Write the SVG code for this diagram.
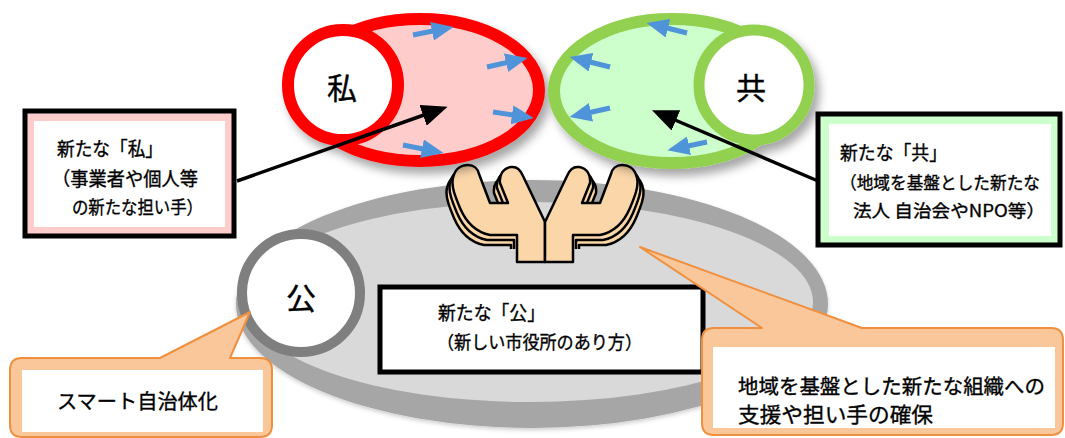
<svg xmlns="http://www.w3.org/2000/svg" width="1065" height="438" viewBox="0 0 1065 438">
  <defs>
    <style>
      .jp { font-family: "Noto Sans CJK JP", "Liberation Sans", sans-serif; fill: #000; stroke: #000; stroke-width: 0.35; }
      .big { font-size: 30px; text-anchor: middle; }
      .frame { stroke: #000; stroke-width: 5; }
      .callout { fill: #f9c79a; stroke: #f0903f; stroke-width: 2; stroke-linejoin: round; }
      .blue { stroke: #4f94d8; stroke-width: 5; fill: none; marker-end: url(#blueHead); }
      .black { stroke: #000; stroke-width: 3.5; fill: none; marker-end: url(#blackHead); }
      .hand { fill: #fbd6a9; stroke: #000; stroke-width: 2.5; stroke-linejoin: round; }
    </style>
    <marker id="blueHead" markerUnits="userSpaceOnUse" markerWidth="22" markerHeight="19" refX="1" refY="9.5" orient="auto" viewBox="0 0 22 19">
      <path d="M0,0 L22,9.5 L0,19 Z" fill="#4f94d8"/>
    </marker>
    <marker id="blackHead" markerUnits="userSpaceOnUse" markerWidth="26" markerHeight="22" refX="1" refY="11" orient="auto" viewBox="0 0 26 22">
      <path d="M0,0 L26,11 L0,22 Z" fill="#000"/>
    </marker>
    <filter id="shadow" x="-20%" y="-20%" width="150%" height="160%">
      <feDropShadow dx="5" dy="7" stdDeviation="5" flood-color="#000" flood-opacity="0.35"/>
    </filter>
    <filter id="soft" x="-10%" y="-10%" width="120%" height="130%">
      <feDropShadow dx="0" dy="2" stdDeviation="2" flood-color="#000" flood-opacity="0.2"/>
    </filter>
    <clipPath id="handStack">
      <rect x="400" y="150" width="300" height="99"/>
    </clipPath>
    <!-- one cupped hand (left side); the right one is its mirror image -->
    <path id="handShape" d="M545,262 L517,262 L517,242 L517,235 L490,235
      C475,232 466,222 460,208 C455,196 451,186 453,178
      C455,168 462,165 468,165 C474,165 478,169 479,174
      L490,203 L508,203 L500,183
      C499,175 503,168 511,167 C518,166 521,171 523,176
      L545,222 Z"/>
  </defs>

  <!-- base plate -->
  <g id="plate" filter="url(#soft)">
    <ellipse cx="532" cy="304" rx="296" ry="124" fill="#a6a6a6"/>
    <ellipse cx="530" cy="302" rx="283" ry="100" fill="#d9d9d9"/>
  </g>

  <!-- hands -->
  <g id="hands">
    <g id="hand-left">
      <g clip-path="url(#handStack)">
        <use href="#handShape" class="hand" transform="translate(-6,10)"/>
        <use href="#handShape" class="hand" transform="translate(-3,5)"/>
      </g>
      <use href="#handShape" class="hand"/>
    </g>
    <g id="hand-right" transform="translate(1090,0) scale(-1,1)">
      <g clip-path="url(#handStack)">
        <use href="#handShape" class="hand" transform="translate(-6,10)"/>
        <use href="#handShape" class="hand" transform="translate(-3,5)"/>
      </g>
      <use href="#handShape" class="hand"/>
    </g>
  </g>

  <!-- 私 -->
  <g id="node-watashi" filter="url(#shadow)">
    <ellipse cx="420" cy="90" rx="119" ry="71" fill="#ffcccc" stroke="#ff0000" stroke-width="12"/>
    <circle cx="343" cy="85" r="55" fill="#fff" stroke="#ff0000" stroke-width="12"/>
  </g>
  <text class="jp big" x="342" y="99">私</text>

  <!-- 共 -->
  <g id="node-tomo" filter="url(#shadow)">
    <ellipse cx="672" cy="91" rx="118" ry="72" fill="#ccffcc" stroke="#92d050" stroke-width="12"/>
    <circle cx="754" cy="85" r="55" fill="#fff" stroke="#92d050" stroke-width="11"/>
  </g>
  <text class="jp big" x="751" y="99">共</text>

  <!-- 公 -->
  <g id="node-oyake">
    <circle cx="301" cy="293" r="59" fill="#fff" stroke="#7f7f7f" stroke-width="10"/>
    <text class="jp big" x="301" y="309">公</text>
  </g>

  <g id="box-oyake">
    <rect class="frame" x="380" y="287" width="323" height="85" fill="#fff"/>
    <text class="jp" x="438" y="320" font-size="19" textLength="107" lengthAdjust="spacingAndGlyphs">新たな「公」</text>
    <text class="jp" x="437" y="349" font-size="18" textLength="205" lengthAdjust="spacingAndGlyphs">（新しい市役所のあり方）</text>
  </g>

  <!-- connectors -->
  <g id="connectors">
    <path class="blue" d="M413,35 L433,31"/>
    <path class="blue" d="M487,67 L507,62.5"/>
    <path class="blue" d="M493,112 L513,115"/>
    <path class="blue" d="M403,145 L423,149"/>
    <path class="blue" d="M687,33 L667,28"/>
    <path class="blue" d="M610,67 L590,62"/>
    <path class="blue" d="M610,108 L590,112.5"/>
    <path class="blue" d="M707,142 L688,146"/>
    <path class="black" d="M237,181 L424,115"/>
    <path class="black" d="M818,181 L675,120"/>
  </g>

  <!-- label boxes -->
  <g id="box-watashi">
    <rect class="frame" x="25" y="111" width="209" height="125" fill="#ffcccc"/>
    <rect x="34" y="121" width="191" height="106" fill="#fff"/>
    <text class="jp" x="57" y="156" font-size="19" textLength="106" lengthAdjust="spacingAndGlyphs">新たな「私」</text>
    <text class="jp" x="52" y="186" font-size="19" textLength="146" lengthAdjust="spacingAndGlyphs">（事業者や個人等</text>
    <text class="jp" x="72" y="214" font-size="18" textLength="131" lengthAdjust="spacingAndGlyphs">の新たな担い手）</text>
  </g>

  <g id="box-tomo">
    <rect class="frame" x="818" y="114" width="242" height="131" fill="#ccffcc"/>
    <rect x="829" y="124" width="222" height="112" fill="#fff"/>
    <text class="jp" x="840" y="160" font-size="19" textLength="107" lengthAdjust="spacingAndGlyphs">新たな「共」</text>
    <text class="jp" x="840" y="189" font-size="17.5" textLength="200" lengthAdjust="spacingAndGlyphs">（地域を基盤とした新たな</text>
    <text class="jp" x="853" y="217" font-size="17.5" textLength="192" lengthAdjust="spacingAndGlyphs">法人  自治会やNPO等）</text>
  </g>

  <!-- callouts -->
  <g id="callout-smart">
    <path class="callout" d="M22,358 L160,358 L250,312 L230,358 L260,358 Q272,358 272,370 L272,425 Q272,437 260,437 L22,437 Q10,437 10,425 L10,370 Q10,358 22,358 Z"/>
    <rect x="22" y="370" width="241" height="62" fill="#fff"/>
    <text class="jp" x="57" y="409" font-size="20" textLength="161" lengthAdjust="spacingAndGlyphs">スマート自治体化</text>
  </g>

  <g id="callout-support">
    <path class="callout" d="M714,328 L762,328 L640,247 L862,328 L1051,328 Q1063,328 1063,340 L1063,423 Q1063,435 1051,435 L714,435 Q702,435 702,423 L702,340 Q702,328 714,328 Z"/>
    <rect x="713" y="347" width="342" height="81" fill="#fff"/>
    <text class="jp" x="738" y="394" font-size="20.5" textLength="307" lengthAdjust="spacingAndGlyphs">地域を基盤とした新たな組織への</text>
    <text class="jp" x="738" y="422" font-size="21" textLength="195" lengthAdjust="spacingAndGlyphs">支援や担い手の確保</text>
  </g>
</svg>
